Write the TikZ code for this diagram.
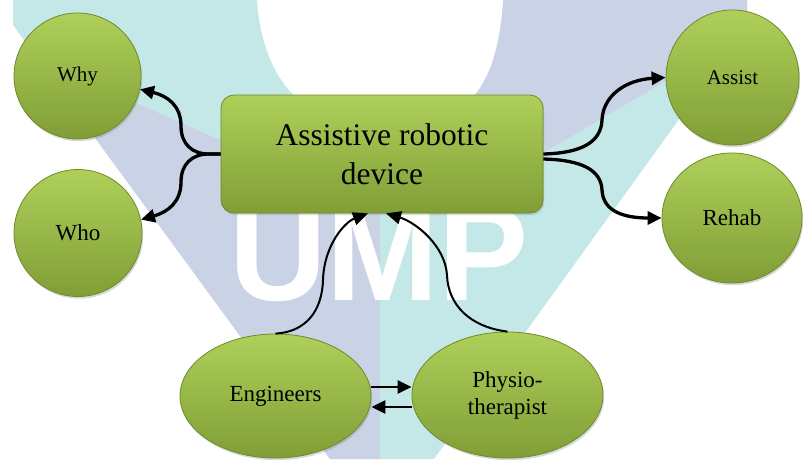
\documentclass[tikz,border=0pt]{standalone}
\usepackage{fontspec}
\setmainfont{Liberation Serif}
\newfontfamily\wmfont{Liberation Sans}
\usetikzlibrary{shapes.geometric,arrows.meta,shadows}
\definecolor{wmteal}{RGB}{196,232,232}
\definecolor{wmlav}{RGB}{202,210,230}
\definecolor{gtop}{RGB}{174,208,90}
\definecolor{gbot}{RGB}{128,158,54}
\definecolor{gedge}{RGB}{110,138,42}
\tikzset{
  bubble/.style={ellipse, draw=gedge, line width=0.8pt, top color=gtop, bottom color=gbot,
    inner sep=0pt, align=center,
    drop shadow={opacity=0.3, shadow xshift=1.2pt, shadow yshift=-2.2pt}},
  mainbox/.style={rectangle, rounded corners=13pt, draw=gedge, line width=0.8pt,
    top color=gtop, bottom color=gbot, inner sep=0pt, align=center,
    drop shadow={opacity=0.3, shadow xshift=1.2pt, shadow yshift=-2.2pt}},
  conn/.style={line width=3.3pt, -{Triangle[length=14pt,width=13pt]}},
  midconn/.style={line width=2.8pt, -{Triangle[length=14pt,width=13pt]}},
  thinconn/.style={line width=2pt, -{Triangle[length=15pt,width=13pt]}},
  smalltxt/.style={font=\fontsize{21}{25}\selectfont},
  midtxt/.style={font=\fontsize{23}{27}\selectfont},
}
\begin{document}
\begin{tikzpicture}[x=1pt,y=-1pt]
\useasboundingbox (0,0) rectangle (805,459);
% watermark
\fill[wmteal] (13,0) -- (747,0) -- (747,25) -- (434,459) -- (330,459) -- (13,25) -- cycle;
\fill[wmlav] (38,60) -- (220,140) -- (380,210) -- (380,459) -- (330,459) -- cycle;
\fill[wmlav] (503,0) -- (747,0) -- (747,25) -- (737,39) -- (543,153) -- (470,190) -- (470,96) -- cycle;
\fill[white] (257,0) .. controls (260,45) and (276,82) .. (300,100) -- (470,100) .. controls (488,82) and (500,50) .. (503,0) -- cycle;
\node[font=\wmfont\bfseries\fontsize{135}{135}\selectfont, text=white, anchor=base, inner sep=0pt] (wm) at (379,300) {UMP};
% nodes
\node[bubble, smalltxt, minimum width=127pt, minimum height=126pt] (why) at (77.5,76) {Why};
\node[bubble, midtxt, minimum width=128pt, minimum height=127pt] (who) at (78,233) {Who};
\node[bubble, smalltxt, minimum width=133pt, minimum height=135pt] (assist) at (732.5,77.5) {Assist};
\node[bubble, midtxt, minimum width=140pt, minimum height=130pt] (rehab) at (732,218) {Rehab};
\node[bubble, midtxt, minimum width=191pt, minimum height=124pt] (eng) at (275.5,396) {Engineers};
\node[bubble, midtxt, minimum width=191pt, minimum height=126pt] (phys) at (507.5,395) {Physio-\\therapist};
\node[mainbox, font=\fontsize{31.5}{39}\selectfont, minimum width=322pt, minimum height=118pt] (box) at (382,154) {Assistive robotic\\device};
% connectors
\coordinate (jl) at (209,154);
\draw[conn] (box.west) -- (jl) .. controls (192,154) and (181,144) .. (181,126) .. controls (181,106) and (168,96) .. (why.-12);
\draw[conn] (box.west) -- (jl) .. controls (192,154) and (181,164) .. (181,182) .. controls (181,202) and (168,212) .. (who.12);
\draw[conn] (box.east) .. controls (582,153) and (601,142) .. (602,120) .. controls (603,96) and (625,80) .. (assist.west);
\draw[conn] ([yshift=-5pt]box.east) .. controls (582,160) and (601,170) .. (602,190) .. controls (603,212) and (625,218) .. (rehab.west);
\draw[thinconn] (eng.north) .. controls (305,332) and (322,312) .. (323,280) .. controls (324,245) and (345,222) .. ([xshift=-14pt]box.south);
\draw[thinconn] (phys.north) .. controls (470,327) and (448,305) .. (447,275) .. controls (445,245) and (415,222) .. ([xshift=4pt]box.south);
\draw[midconn] ([yshift=9pt]eng.east) -- ([yshift=9pt]eng.east -| phys.west);
\draw[midconn] ([yshift=-12pt]phys.west) -- ([yshift=-12pt]phys.west -| eng.east);
\end{tikzpicture}
\end{document}
